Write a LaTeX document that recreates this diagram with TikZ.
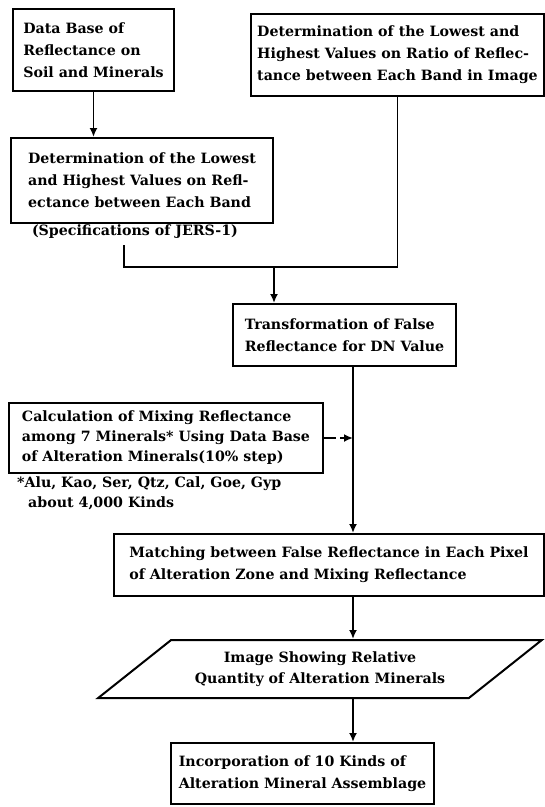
\documentclass[tikz,border=0pt]{standalone}
\usepackage{fontspec}
\setmainfont{DejaVu Serif}
\usepackage{tikz}
\usetikzlibrary{positioning}
\usetikzlibrary{shapes.geometric,arrows.meta}

\begin{document}
\begin{tikzpicture}
    [x=1pt, y=-1pt,
     procbox/.style={rectangle, draw, line width=2pt, anchor=north west, align=left, inner xsep=4pt, inner ysep=3pt, font=\bfseries\fontsize{14.2}{22}\selectfont},
     ioshape/.style={trapezium, draw, line width=2pt, trapezium left angle=32, trapezium right angle=148, trapezium stretches=true, align=center, inner sep=2pt, font=\bfseries\fontsize{14.2}{21}\selectfont},
     tn/.style={align=left, inner sep=0pt, font=\bfseries\fontsize{14.2}{20}\selectfont},
     flow/.style={line width=1.9pt},
     arr/.style={flow, -{Latex[length=9pt, width=8pt]}}]

    \useasboundingbox (0,0) rectangle (545,807);
    \coordinate (spine) at (353,0);

    \node [procbox, minimum width=161pt, minimum height=82pt] (soilbase) at (12,8)
        {Data Base of\\ Reflectance on\\ Soil and Minerals};
    \node [procbox, minimum width=293pt, minimum height=82pt] (ratiobox) at (250,13)
        {Determination of the Lowest and\\ Highest Values on Ratio of Reflec-\\ tance between Each Band in Image};
    \node [procbox, minimum width=262pt, minimum height=85pt] (bandbox) at (10,137)
        {Determination of the Lowest\\ and Highest Values on Refl-\\ ectance between Each Band};
    \node [tn] (jers) at (135,232) {(Specifications of JERS-1)};
    \draw [arr] (soilbase.south) -- (soilbase.south |- bandbox.north);

    % both branches meet and drop into the transformation step
    \coordinate (jlow) at (124,245);
    \coordinate (merge) at (274,267);
    \draw [flow] (jlow) |- (merge) -| (ratiobox.south);

    \node [procbox, minimum width=223pt, minimum height=62pt] (falsebox) at (232,303)
        {Transformation of False\\ Reflectance for DN Value};
    \draw [arr] (merge) -- (merge |- falsebox.north);

    \node [procbox, minimum width=314pt, minimum height=70pt, font=\bfseries\fontsize{14.2}{20}\selectfont] (mixbox) at (8,402)
        {Calculation of Mixing Reflectance\\ among 7 Minerals* Using Data Base\\ of Alteration Minerals(10\% step)};
    \node [tn, anchor=north west] (minlist) at (17,477)
        {*Alu, Kao, Ser, Qtz, Cal, Goe, Gyp\\ \hspace*{11pt}about 4,000 Kinds};

    \node [procbox, minimum width=430pt, minimum height=62pt] (matchbox) at (113,533)
        {Matching between False Reflectance in Each Pixel\\ of Alteration Zone and Mixing Reflectance};
    \draw [arr] (spine |- falsebox.south) -- (spine |- matchbox.north);
    \draw [arr, dash pattern=on 12pt off 4pt] (mixbox.east) -- (mixbox.east -| spine);

    \node [ioshape, minimum width=446pt, minimum height=58pt] (imagebox) at (320,669)
        {Image Showing Relative\\ Quantity of Alteration Minerals};
    \draw [arr] (spine |- matchbox.south) -- (spine |- imagebox.north);

    \node [procbox, minimum width=263pt, minimum height=61pt] (assembox) at (170,742)
        {Incorporation of 10 Kinds of\\ Alteration Mineral Assemblage};
    \draw [arr] (spine |- imagebox.south) -- (spine |- assembox.north);
\end{tikzpicture}
\end{document}
